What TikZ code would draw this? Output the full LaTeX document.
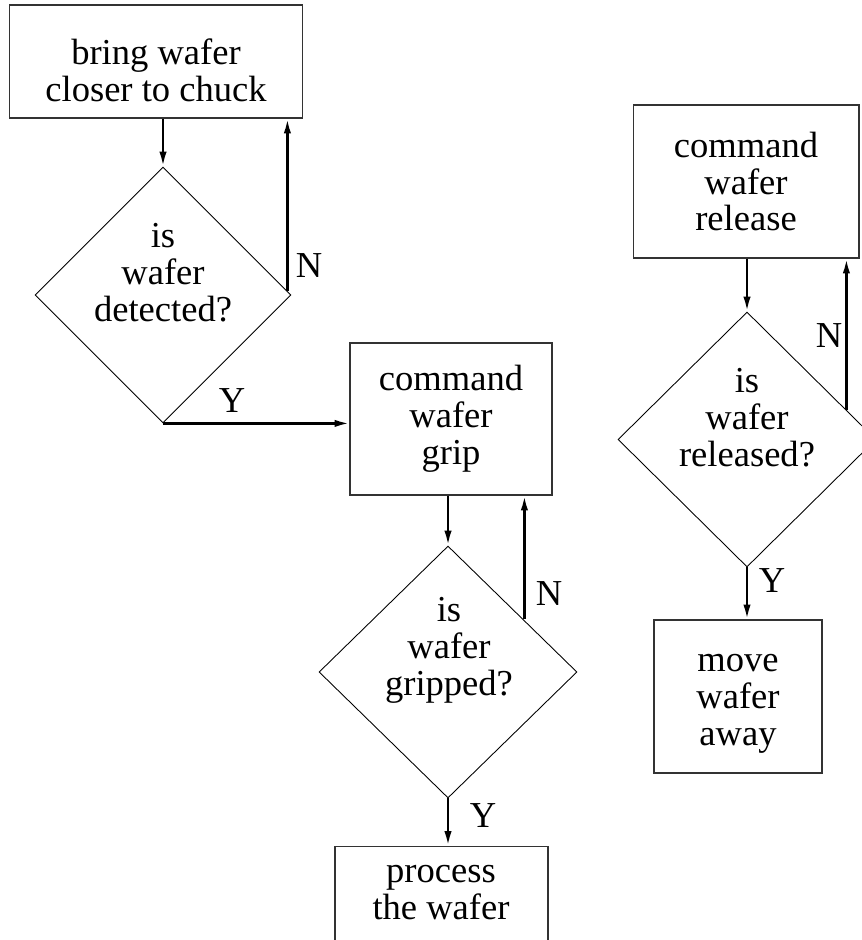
\documentclass[tikz,border=0pt]{standalone}
\usepackage{fontspec}
\setmainfont{Liberation Serif}
\usetikzlibrary{shapes.geometric,arrows.meta,calc}
\newcommand{\flowfont}{\fontsize{20.8}{21}\selectfont}
\tikzset{
  box/.style={draw=black!80, line width=0.6pt, align=center, inner sep=0pt, font=\flowfont},
  decision/.style={draw, diamond, line width=0.5pt, inner sep=0pt},
  txt/.style={align=center, font=\flowfont},
  flow/.style={line width=1.4pt, -{Latex[length=8.5pt,width=4.2pt]}}
}
\begin{document}
\begin{tikzpicture}[x=0.02cm, y=-0.02cm]
  \useasboundingbox (0,0) rectangle (862,940);
  \clip (0,0) rectangle (862,940);

  % Wafer detection loop
  \node[box, minimum width=5.86cm, minimum height=2.26cm] (b1) at (156,61.5) {};
  \node[txt] (t0) at (156,70) {bring wafer\\closer to chuck};
  \node[decision, minimum width=5.12cm, minimum height=5.12cm] (d1) at (163,295) {};
  \node[txt] (t1) at (163,273) {is\\wafer\\detected?};
  \coordinate (n1) at ($(d1.east)+(-4,-4)$);
  \draw[flow] (d1.north |- b1.south) -- (d1.north);
  \draw[flow] (n1) -- (n1 |- b1.south);
  \node[txt] (l1) at (309,266) {N};

  % Grip loop
  \node[box, minimum width=4.04cm, minimum height=3.04cm] (b2) at (451,419) {command\\wafer\\grip};
  \draw[flow] (d1.south) -- (d1.south -| b2.west);
  \node[txt] (l2) at (232,401) {Y};
  \node[decision, minimum width=5.16cm, minimum height=5.04cm] (d2) at (448,672) {};
  \node[txt] (t2) at (449,650) {is\\wafer\\gripped?};
  \coordinate (n2) at ($(d2.east)+(-53,-53)$);
  \draw[flow] (d2.north |- b2.south) -- (d2.north);
  \draw[flow] (n2) -- (n2 |- b2.south);
  \node[txt] (l3) at (549,594) {N};

  % Process box (cut at the bottom)
  \node[box, minimum width=4.26cm, minimum height=3cm, anchor=north] (b3) at (441.5,846) {};
  \node[txt] (t3) at (441,893) {process\\the wafer};
  \draw[flow] (d2.south) -- (d2.south |- b3.north);
  \node[txt] (l4) at (483,816) {Y};

  % Release loop
  \node[box, minimum width=4.52cm, minimum height=3.06cm] (b4) at (746,181.5) {command\\wafer\\release};
  \node[decision, minimum width=5.16cm, minimum height=5.1cm] (d3) at (747,439.5) {};
  \node[txt] (t4) at (747,418) {is\\wafer\\released?};
  \coordinate (n3) at ($(d3.east)+(-30,-30)$);
  \draw[flow] (d3.north |- b4.south) -- (d3.north);
  \draw[flow] (n3) -- (n3 |- b4.south);
  \node[txt] (l5) at (829,336) {N};

  % Move away
  \node[box, minimum width=3.36cm, minimum height=3.06cm] (b5) at (738,696.5) {};
  \node[txt] (t5) at (738,704) {move\\wafer\\away};
  \draw[flow] (d3.south) -- (d3.south |- b5.north);
  \node[txt] (l6) at (772,581) {Y};
\end{tikzpicture}
\end{document}
